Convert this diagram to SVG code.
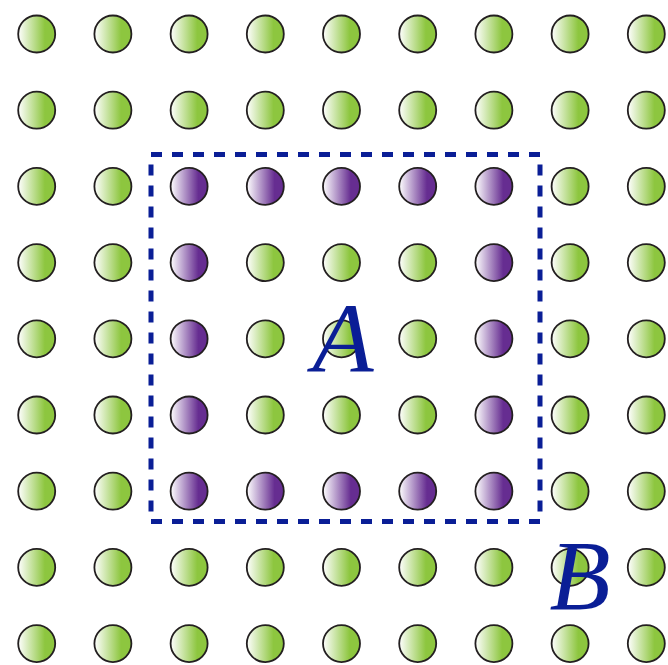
<svg xmlns="http://www.w3.org/2000/svg" width="668" height="665" viewBox="0 0 668 665">
<defs>
<linearGradient id="gG" x1="0" y1="0" x2="1" y2="0">
<stop offset="0" stop-color="#ffffff"/>
<stop offset="0.72" stop-color="#8dc63f"/>
<stop offset="1" stop-color="#8dc63f"/>
</linearGradient>
<linearGradient id="gP" x1="0" y1="0" x2="1" y2="0">
<stop offset="0" stop-color="#ffffff"/>
<stop offset="0.75" stop-color="#662d91"/>
<stop offset="1" stop-color="#662d91"/>
</linearGradient>
<circle id="c" r="18.5"/>
</defs>
<style>
.g{fill:url(#gG);stroke:#231f20;stroke-width:1.8}
.p{fill:url(#gP);stroke:#231f20;stroke-width:1.8}
.lbl{font-family:"Liberation Serif",serif;font-style:italic;font-size:100px;fill:#0a1e96;text-anchor:middle}
.box{fill:none;stroke:#0a1e96;stroke-width:5;stroke-dasharray:11 10}
</style>
<rect width="668" height="665" fill="#ffffff"/>
<g id="grid">
<g id="row0">
<use href="#c" class="g" x="36.7" y="34"/><use href="#c" class="g" x="112.9" y="34"/><use href="#c" class="g" x="189.1" y="34"/><use href="#c" class="g" x="265.3" y="34"/><use href="#c" class="g" x="341.5" y="34"/><use href="#c" class="g" x="417.7" y="34"/><use href="#c" class="g" x="493.9" y="34"/><use href="#c" class="g" x="570.1" y="34"/><use href="#c" class="g" x="646.3" y="34"/>
</g>
<g id="row1">
<use href="#c" class="g" x="36.7" y="110.2"/><use href="#c" class="g" x="112.9" y="110.2"/><use href="#c" class="g" x="189.1" y="110.2"/><use href="#c" class="g" x="265.3" y="110.2"/><use href="#c" class="g" x="341.5" y="110.2"/><use href="#c" class="g" x="417.7" y="110.2"/><use href="#c" class="g" x="493.9" y="110.2"/><use href="#c" class="g" x="570.1" y="110.2"/><use href="#c" class="g" x="646.3" y="110.2"/>
</g>
<g id="row2">
<use href="#c" class="g" x="36.7" y="186.4"/><use href="#c" class="g" x="112.9" y="186.4"/><use href="#c" class="p" x="189.1" y="186.4"/><use href="#c" class="p" x="265.3" y="186.4"/><use href="#c" class="p" x="341.5" y="186.4"/><use href="#c" class="p" x="417.7" y="186.4"/><use href="#c" class="p" x="493.9" y="186.4"/><use href="#c" class="g" x="570.1" y="186.4"/><use href="#c" class="g" x="646.3" y="186.4"/>
</g>
<g id="row3">
<use href="#c" class="g" x="36.7" y="262.6"/><use href="#c" class="g" x="112.9" y="262.6"/><use href="#c" class="p" x="189.1" y="262.6"/><use href="#c" class="g" x="265.3" y="262.6"/><use href="#c" class="g" x="341.5" y="262.6"/><use href="#c" class="g" x="417.7" y="262.6"/><use href="#c" class="p" x="493.9" y="262.6"/><use href="#c" class="g" x="570.1" y="262.6"/><use href="#c" class="g" x="646.3" y="262.6"/>
</g>
<g id="row4">
<use href="#c" class="g" x="36.7" y="338.8"/><use href="#c" class="g" x="112.9" y="338.8"/><use href="#c" class="p" x="189.1" y="338.8"/><use href="#c" class="g" x="265.3" y="338.8"/><use href="#c" class="g" x="341.5" y="338.8"/><use href="#c" class="g" x="417.7" y="338.8"/><use href="#c" class="p" x="493.9" y="338.8"/><use href="#c" class="g" x="570.1" y="338.8"/><use href="#c" class="g" x="646.3" y="338.8"/>
</g>
<g id="row5">
<use href="#c" class="g" x="36.7" y="415"/><use href="#c" class="g" x="112.9" y="415"/><use href="#c" class="p" x="189.1" y="415"/><use href="#c" class="g" x="265.3" y="415"/><use href="#c" class="g" x="341.5" y="415"/><use href="#c" class="g" x="417.7" y="415"/><use href="#c" class="p" x="493.9" y="415"/><use href="#c" class="g" x="570.1" y="415"/><use href="#c" class="g" x="646.3" y="415"/>
</g>
<g id="row6">
<use href="#c" class="g" x="36.7" y="491.2"/><use href="#c" class="g" x="112.9" y="491.2"/><use href="#c" class="p" x="189.1" y="491.2"/><use href="#c" class="p" x="265.3" y="491.2"/><use href="#c" class="p" x="341.5" y="491.2"/><use href="#c" class="p" x="417.7" y="491.2"/><use href="#c" class="p" x="493.9" y="491.2"/><use href="#c" class="g" x="570.1" y="491.2"/><use href="#c" class="g" x="646.3" y="491.2"/>
</g>
<g id="row7">
<use href="#c" class="g" x="36.7" y="567.4"/><use href="#c" class="g" x="112.9" y="567.4"/><use href="#c" class="g" x="189.1" y="567.4"/><use href="#c" class="g" x="265.3" y="567.4"/><use href="#c" class="g" x="341.5" y="567.4"/><use href="#c" class="g" x="417.7" y="567.4"/><use href="#c" class="g" x="493.9" y="567.4"/><use href="#c" class="g" x="570.1" y="567.4"/><use href="#c" class="g" x="646.3" y="567.4"/>
</g>
<g id="row8">
<use href="#c" class="g" x="36.7" y="643.6"/><use href="#c" class="g" x="112.9" y="643.6"/><use href="#c" class="g" x="189.1" y="643.6"/><use href="#c" class="g" x="265.3" y="643.6"/><use href="#c" class="g" x="341.5" y="643.6"/><use href="#c" class="g" x="417.7" y="643.6"/><use href="#c" class="g" x="493.9" y="643.6"/><use href="#c" class="g" x="570.1" y="643.6"/><use href="#c" class="g" x="646.3" y="643.6"/>
</g>
</g>
<g id="regionA">
<rect class="box" x="151" y="154.5" width="389" height="367"/>
<text class="lbl" x="343" y="372">A</text>
</g>
<g id="regionB">
<text class="lbl" x="580" y="609">B</text>
</g>
</svg>
